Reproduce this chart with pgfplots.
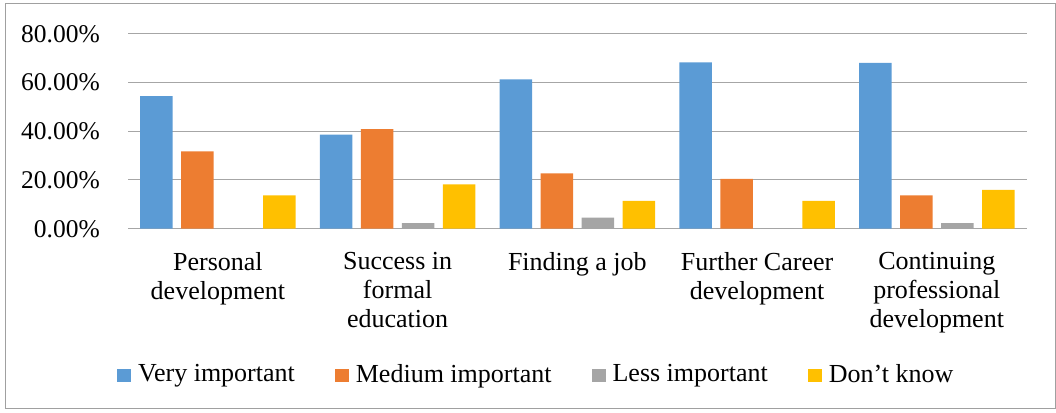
\documentclass[border=0pt]{standalone}
\usepackage{pgfplots}
\pgfplotsset{compat=1.18}
\usepackage{fontspec}
\setmainfont{Liberation Serif}
\definecolor{cBlue}{HTML}{5B9BD5}
\definecolor{cOrange}{HTML}{ED7D31}
\definecolor{cGray}{HTML}{A5A5A5}
\definecolor{cYellow}{HTML}{FFC000}
\definecolor{cGrid}{HTML}{A6A6A6}
\definecolor{cFrame}{HTML}{A0A0A0}
\begin{document}
\begin{tikzpicture}[x=1pt,y=1pt]
\useasboundingbox (0,0) rectangle (1056,-412);
\draw[cFrame, line width=1pt] (5,-4) rectangle (1055,-408);
\begin{axis}[
  at={(128pt,-228.7pt)}, anchor=south west,
  scale only axis, width=898.7pt, height=195pt,
  ybar=8.5pt, bar width=32.5pt,
  xmin=-0.5, xmax=4.5, ymin=0, ymax=80,
  xtick={0,1,2,3,4},
  xticklabels={{Personal\\development},{Success in\\formal\\education},{Finding a job},{Further Career\\development},{Continuing\\professional\\development}},
  ytick={0,20,40,60,80},
  yticklabel={\pgfmathprintnumber[fixed,fixed zerofill,precision=2]{\tick}\%},
  /pgf/number format/assume math mode=true,
  ymajorgrids, grid style={cGrid, line width=1pt},
  axis x line*=bottom, axis y line*=left,
  x axis line style={cGrid, line width=1pt, -},
  y axis line style={draw=none},
  major tick length=0pt,
  xticklabel style={align=center, inner sep=0pt, yshift=-23.6pt, font=\fontsize{26}{29}\selectfont},
  yticklabel style={inner sep=0pt, xshift=-28pt, font=\fontsize{25.5}{29}\selectfont},
  every axis plot post/.append style={draw=none, legend image code/.code={\fill[##1] (0pt,-7.5pt) rectangle (14pt,5.5pt);}},
  legend columns=4,
  legend style={at={(-0.01558,-0.7452)}, anchor=west, draw=none, fill=none,
    font=\fontsize{26}{29}\selectfont,
    nodes={inner sep=0pt},
    /tikz/every odd column/.append style={column sep=7pt},
    /tikz/every even column/.append style={column sep=40pt}},
]
\addplot[fill=cBlue] coordinates {(0,54.4) (1,38.6) (2,61.3) (3,68.2) (4,68.0)};
\addplot[fill=cOrange] coordinates {(0,31.7) (1,40.9) (2,22.7) (3,20.4) (4,13.7)};
\addplot[fill=cGray] coordinates {(0,0) (1,2.3) (2,4.5) (3,0) (4,2.3)};
\addplot[fill=cYellow] coordinates {(0,13.7) (1,18.2) (2,11.4) (3,11.4) (4,15.9)};
\legend{Very important, Medium important, Less important, Don’t know}
\end{axis}
\end{tikzpicture}
\end{document}
